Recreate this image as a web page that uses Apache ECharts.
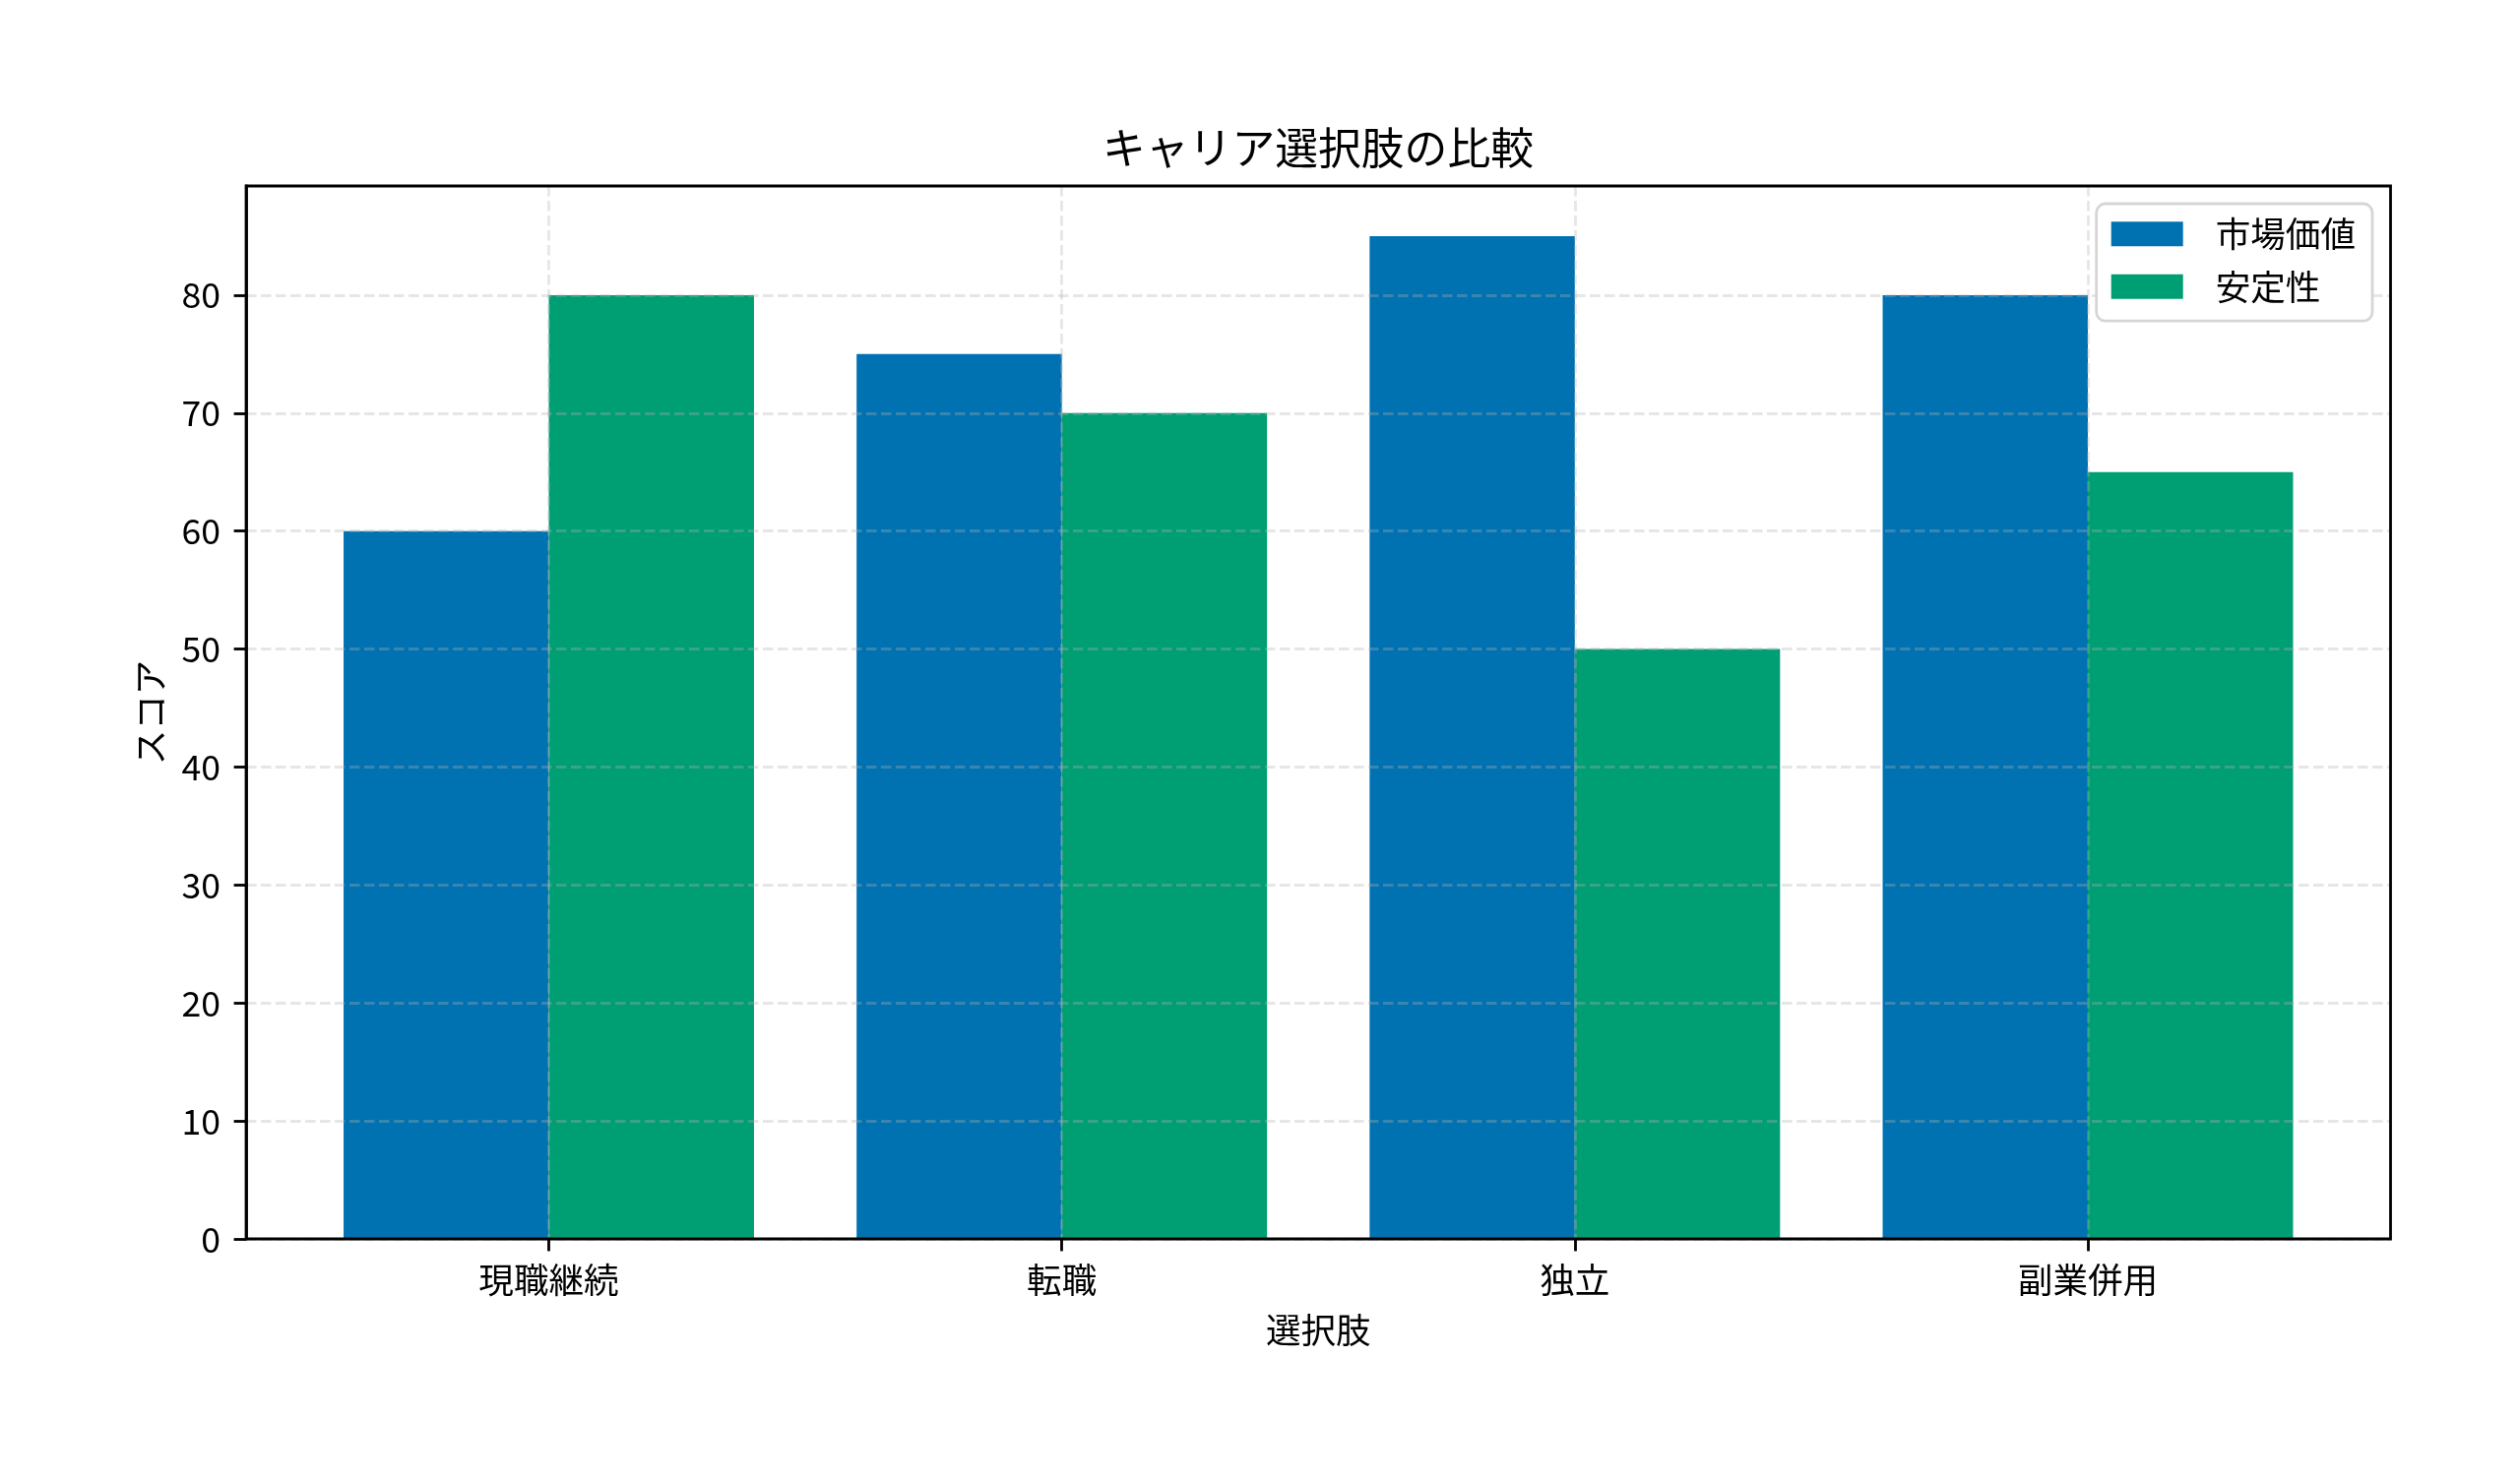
<!DOCTYPE html>
<html>
<head>
<meta charset="utf-8">
<script src="https://cdn.jsdelivr.net/npm/echarts@6/dist/echarts.min.js"></script>
<style>
html,body{margin:0;padding:0;background:#fff;}
#chart{width:2560px;height:1505px;}
</style>
</head>
<body>
<div id="chart"></div>
<script>
const categories = ['現職継続', '転職', '独立', '副業併用'];
const marketValue = [60, 75, 85, 80];
const stability = [80, 70, 50, 65];
const seriesNames = ['市場価値', '安定性'];
const yTicks = [0, 10, 20, 30, 40, 50, 60, 70, 80];
const yMax = 89.25;

const FONT = '"Noto Sans CJK JP", "Noto Sans", sans-serif';
const FS = 35.6;
const LW = 2.8;
const gridColor = 'rgba(176,176,176,0.32)';

const chart = echarts.init(document.getElementById('chart'), null, {renderer: 'canvas'});
chart.setOption({
  backgroundColor: '#ffffff',
  animation: false,
  textStyle: {fontFamily: FONT},
  title: {
    text: 'キャリア選択肢の比較',
    left: 1334,
    top: 123,
    textAlign: 'center',
    textStyle: {fontFamily: FONT, fontSize: 43.8, fontWeight: 'normal', color: '#000'}
  },
  legend: {
    data: seriesNames,
    orient: 'vertical',
    right: 150,
    top: 207,
    itemWidth: 73,
    itemHeight: 25,
    itemGap: 18,
    icon: 'rect',
    padding: [13, 17, 17, 15],
    backgroundColor: '#fff',
    borderColor: '#d6d6d6',
    borderWidth: 2.8,
    borderRadius: 9,
    z: 12,
    textStyle: {fontFamily: FONT, fontSize: FS, color: '#000', padding: [0, 0, 0, 28]}
  },
  grid: [
    {left: 250, right: 131.5, top: 189, bottom: 246, show: true, borderColor: '#000', borderWidth: LW, backgroundColor: 'transparent', z: 10},
    {left: 557.5, right: 439, top: 189, bottom: 246, show: false}
  ],
  xAxis: [
    {gridIndex: 0, type: 'value', min: 0, max: 1, show: false},
    {
      gridIndex: 1, type: 'category', data: categories, boundaryGap: false, position: 'bottom', z: 4,
      axisLine: {show: false},
      axisTick: {show: true, length: 12.4, lineStyle: {color: '#000', width: LW}},
      axisLabel: {margin: 24, fontFamily: FONT, fontSize: FS, color: '#000', interval: 0},
      splitLine: {show: true, showMinLine: true, showMaxLine: true, lineStyle: {color: gridColor, width: LW, type: [10.5, 4.5]}},
      name: '選択肢', nameLocation: 'middle', nameGap: 75,
      nameTextStyle: {fontFamily: FONT, fontSize: FS, color: '#000'}
    }
  ],
  yAxis: [
    {
      gridIndex: 0, type: 'value', min: 0, max: yMax, z: 4,
      axisLine: {show: true, lineStyle: {color: '#000', width: LW}},
      axisTick: {show: true, length: 12.4, customValues: yTicks, lineStyle: {color: '#000', width: LW}},
      axisLabel: {margin: 26, customValues: yTicks, fontFamily: FONT, fontSize: FS, color: '#000'},
      splitLine: {show: true, lineStyle: {color: gridColor, width: LW, type: [10.5, 4.5]}},
      name: 'スコア', nameLocation: 'middle', nameGap: 80, nameRotate: 90,
      nameTextStyle: {fontFamily: FONT, fontSize: FS, color: '#000'}
    },
    {gridIndex: 1, type: 'value', min: 0, max: yMax, show: false}
  ],
  series: [
    {
      name: seriesNames[0], type: 'bar', xAxisIndex: 1, yAxisIndex: 1,
      data: marketValue, barWidth: '40%', barGap: '0%', clip: false,
      itemStyle: {color: '#0072B2'}, z: 2
    },
    {
      name: seriesNames[1], type: 'bar', xAxisIndex: 1, yAxisIndex: 1,
      data: stability, barWidth: '40%', barGap: '0%', clip: false,
      itemStyle: {color: '#009E73'}, z: 2
    }
  ]
});
</script>
</body>
</html>
